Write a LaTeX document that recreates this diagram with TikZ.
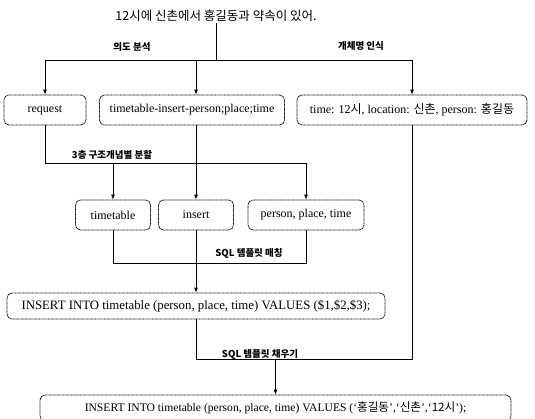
\documentclass[tikz,border=0pt]{standalone}
\usepackage{fontspec}
\setmainfont{Liberation Serif}
\newfontfamily\kr{Noto Sans CJK KR}
\usetikzlibrary{arrows.meta}
\begin{document}
\begin{tikzpicture}[x=1pt,y=-1pt,
  box/.style={draw=black, dash pattern=on 0.8pt off 0.5pt, rounded corners=5pt,
    minimum height=30pt, inner sep=0pt, line width=0.75pt,
    font=\fontsize{12}{14}\selectfont},
  lbl/.style={font=\kr\bfseries\fontsize{9.5}{10}\selectfont, inner sep=0pt},
  ln/.style={line width=0.8pt},
  arr/.style={ln,-{Latex[length=5pt,width=4pt]}}]
\useasboundingbox (0,0) rectangle (535,419);
\clip (0,0) rectangle (535,419);

\node[inner sep=1pt, font=\kr\fontsize{12.5}{14}\selectfont] (t) at (216,16) {12시에 신촌에서 홍길동과 약속이 있어.};

\node[box, minimum width=82pt] (req) at (45,110) {request};
\node[box, minimum width=185pt] (tip) at (192,110) {timetable-insert-person;place;time};
\node[box, minimum width=230pt] (ner) at (412,110) {time: 12{\kr 시}, location: {\kr 신촌}, person: {\kr 홍길동}};

\node[box, minimum width=75pt] (tt) at (113,215) {timetable};
\node[box, minimum width=75pt] (ins) at (196,215) {insert};
\node[box, minimum width=116pt] (pp) at (306,215) {person, place, time};

\node[box, minimum width=378pt, minimum height=26pt, font=\fontsize{12.8}{14}\selectfont] (sql) at (196,306) {INSERT INTO timetable (person, place, time) VALUES (\$1,\$2,\$3);};
\node[box, minimum width=471pt, minimum height=26pt, font=\fontsize{11.6}{14}\selectfont] (fin) at (275.5,408) {INSERT INTO timetable (person, place, time) VALUES (`{\kr 홍길동}',`{\kr 신촌}',`{\kr 12시}');};

% first split
\coordinate (j0) at (216,60);
\draw[ln] (t.south) -- (j0);
\draw[ln] (req.north |- j0) -- (ner.north |- j0);
\draw[arr] (req.north |- j0) -- (req.north);
\draw[arr] (ins.north |- j0) -- (ins.north |- tip.north);
\draw[arr] (ner.north |- j0) -- (ner.north);
\node[lbl] (l1) at (132,47) {의도 분석};
\node[lbl] (l2) at (361,46) {개체명 인식};

% second split
\coordinate (j1) at (46,163);
\draw[ln] (req.south) |- (pp.north |- j1);
\draw[arr] (tt.north |- j1) -- (tt.north);
\draw[arr] (pp.north |- j1) -- (pp.north);
\draw[arr] (tip.south -| ins.north) -- (ins.north);
\node[lbl] (l3) at (112,155) {3층 구조개념별 분할};

% template matching
\coordinate (j2) at (196,263);
\draw[ln] (tt.south) |- (pp.south |- j2) -- (pp.south);
\draw[arr] (ins.south) -- (sql.north -| ins.south);
\node[lbl] (l4) at (249,253) {SQL 템플릿 매칭};

% template filling
\coordinate (j3) at (196,359);
\draw[ln] (sql.south) |- (ner.south |- j3) -- (ner.south);
\draw[arr] (fin.north |- j3) -- (fin.north);
\node[lbl] (l5) at (260,354) {SQL 템플릿 채우기};
\end{tikzpicture}
\end{document}
